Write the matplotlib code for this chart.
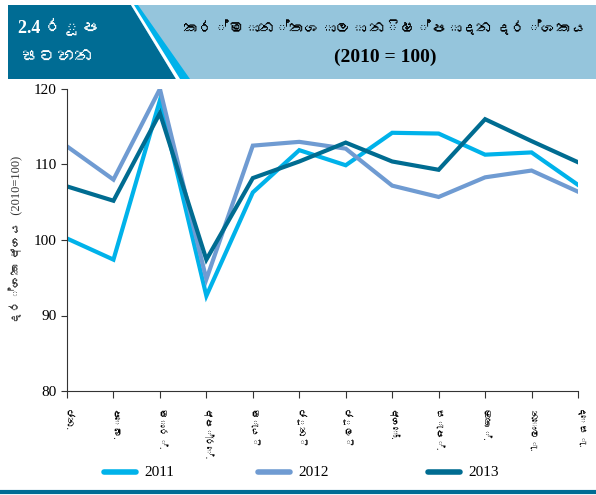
import numpy as np
import matplotlib
matplotlib.use("Agg")
import matplotlib.pyplot as plt
from matplotlib import font_manager
from matplotlib.ft2font import FT2Font
from matplotlib.patches import Polygon, Rectangle

months = ["ජන.", "පෙබ.", "මාර්.", "අප්‍රේ.", "මැයි", "ජූනි", "ජූලි", "අගෝ.", "සැප්.", "ඔක්.", "නොවැ.", "දෙසැ."]
idx_2011 = [100.2, 97.4, 118.5, 92.6, 106.3, 111.9, 109.9, 114.2, 114.1, 111.3, 111.6, 107.3]
idx_2012 = [112.4, 108.0, 120.0, 94.8, 112.5, 113.0, 112.1, 107.2, 105.7, 108.3, 109.2, 106.4]
idx_2013 = [107.1, 105.2, 116.8, 97.4, 108.2, 110.4, 112.9, 110.4, 109.3, 116.0, 113.1, 110.3]
years = ["2011", "2012", "2013"]
colors = ["#00b2ea", "#6f9bd2", "#006c91"]


def find_sinhala_font():
    # look for any installed font that covers Sinhala
    for path in font_manager.findSystemFonts():
        try:
            f = FT2Font(path)
            if 0x0D9A in f.get_charmap():
                return font_manager.FontProperties(fname=path).get_name()
        except Exception:
            pass
    return None


sin = find_sinhala_font()
fam = ["Liberation Serif"] + ([sin] if sin else []) + ["DejaVu Sans"]
plt.rcParams["font.family"] = fam

fig = plt.figure(figsize=(5.96, 4.95), dpi=100)
W, H = 596, 495

# header band
bg = fig.add_axes([0, 0, 1, 1], zorder=-1)
bg.set_xlim(0, W)
bg.set_ylim(H, 0)
bg.axis("off")
bg.add_patch(Rectangle((133, 5), W - 133, 74, color="#95c5dc", lw=0))
bg.add_patch(Polygon([[131, 5], [138, 5], [190, 79], [176, 79]], color="#00b2ea", lw=0))
bg.add_patch(Polygon([[8, 5], [131, 5], [176, 79], [8, 79]], color="#006c94", lw=0))
bg.add_patch(Polygon([[131, 5], [134, 5], [180, 79], [176, 79]], color="white", lw=0))
bg.plot([0, W], [492, 492], color="#006c94", lw=3)
bg.text(18, 27, "2.4 රූප", color="white", fontsize=13, fontweight="bold",
        va="center", ha="left")
bg.text(22, 57, "සටහන", color="white", fontsize=13, fontweight="bold",
        va="center", ha="left")
bg.text(385, 28, "කර්මාන්තශාලා නිෂ්පාදන දර්ශකය", color="black", fontsize=11,
        fontweight="bold", va="center", ha="center")
bg.text(385, 57, "(2010 = 100)", color="black", fontsize=14, fontweight="bold",
        va="center", ha="center")

ax = fig.add_axes([67 / W, 1 - 391 / H, (578 - 67) / W, (391 - 89) / H])
x = np.arange(len(months))
for vals, c, lab in zip([idx_2011, idx_2012, idx_2013], colors, years):
    ax.plot(x, vals, color=c, lw=3, label=lab, solid_joinstyle="miter")

ax.set_xlim(0, 11)
ax.set_ylim(80, 120)
ax.set_yticks([80, 90, 100, 110, 120])
ax.set_xticks(x)
ax.set_xticklabels(months, rotation=-90, va="top", ha="center", fontsize=7)
ax.tick_params(axis="y", labelsize=11, length=4, color="#333333")
ax.tick_params(axis="x", length=5, pad=8, color="#333333")
for s in ["top", "right"]:
    ax.spines[s].set_visible(False)
for s in ["left", "bottom"]:
    ax.spines[s].set_color("#333333")
ax.set_ylabel("දර්ශක අගය  (2010=100)", fontsize=9, color="#333333")
ax.yaxis.set_label_coords(-0.085, 0.5)

# legend, laid out like the reference
leg_x = [104, 258, 428]
for lx, c, lab in zip(leg_x, colors, years):
    bg.plot([lx, lx + 32], [472, 472], color=c, lw=4, solid_capstyle="round")
    bg.text(lx + 40, 472, lab, fontsize=11, va="center", ha="left")

fig.savefig("out.png", dpi=100)
